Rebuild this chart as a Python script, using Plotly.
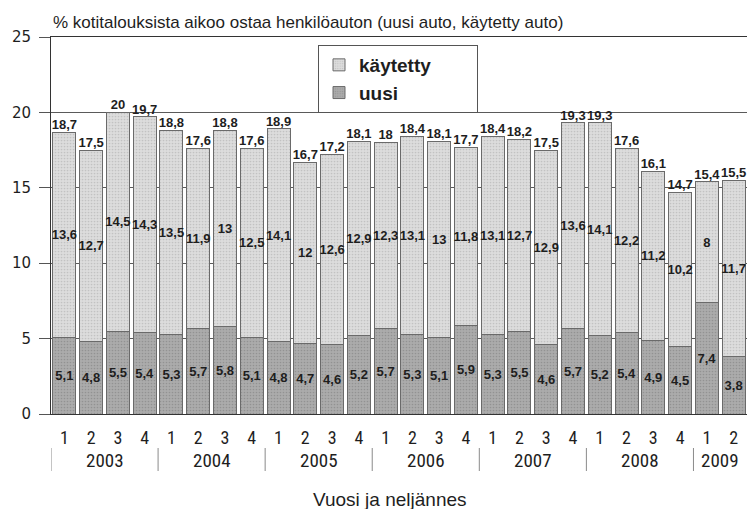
import plotly.graph_objects as go

# Quarterly survey: share of households planning to buy a car (%)
years = ["2003"] * 4 + ["2004"] * 4 + ["2005"] * 4 + ["2006"] * 4 + ["2007"] * 4 + ["2008"] * 4 + ["2009"] * 2
quarters = ["1", "2", "3", "4"] * 6 + ["1", "2"]

uusi = [5.1, 4.8, 5.5, 5.4, 5.3, 5.7, 5.8, 5.1, 4.8, 4.7, 4.6, 5.2, 5.7,
        5.3, 5.1, 5.9, 5.3, 5.5, 4.6, 5.7, 5.2, 5.4, 4.9, 4.5, 7.4, 3.8]
kaytetty = [13.6, 12.7, 14.5, 14.3, 13.5, 11.9, 13, 12.5, 14.1, 12, 12.6, 12.9, 12.3,
            13.1, 13, 11.8, 13.1, 12.7, 12.9, 13.6, 14.1, 12.2, 11.2, 10.2, 8, 11.7]

y_ticks = [0, 5, 10, 15, 20, 25]

categories = [f"{y}/{q}" for y, q in zip(years, quarters)]
totals = [round(a + b, 1) for a, b in zip(uusi, kaytetty)]


def fi(v):
    """Finnish number format: decimal comma, no trailing .0"""
    s = f"{v:g}"
    return s.replace(".", ",")


W, H = 747, 509
M_L, M_R, M_T, M_B = 51, 0, 37, 95
plot_h = H - M_T - M_B

TXT = "#1e1e1e"
label_font = dict(family="Liberation Sans, Arial, sans-serif", size=13, color=TXT, weight="bold")
narrow = "Liberation Sans Narrow, Arial Narrow, Roboto Condensed, Liberation Sans, sans-serif"
NB = "\u00a0"

fig = go.Figure()

fig.add_trace(go.Bar(
    name="uusi" + NB * 14, x=categories, y=uusi,
    text=[fi(v) for v in uusi], textposition="inside", insidetextanchor="middle",
    textangle=0, constraintext="none", textfont=label_font,
    marker=dict(color="#ababab", line=dict(color="#6a6a6a", width=1),
                pattern=dict(shape=".", fgcolor="#7a7a7a", size=3, solidity=0.25)),
))
fig.add_trace(go.Bar(
    name="käytetty" + NB * 6, x=categories, y=kaytetty,
    text=[fi(v) for v in kaytetty], textposition="inside", insidetextanchor="middle",
    textangle=0, constraintext="none", textfont=label_font,
    marker=dict(color="#dcdcdc", line=dict(color="#6a6a6a", width=1),
                pattern=dict(shape=".", fgcolor="#a8a8a8", size=3, solidity=0.25)),
))
# bar totals above each stack
fig.add_trace(go.Scatter(
    x=categories, y=totals, mode="text", text=[fi(v) for v in totals],
    textposition="top center", textfont=label_font, showlegend=False, hoverinfo="skip",
))

# year group labels and separators below the quarter labels
groups = []
for i, y in enumerate(years):
    if not groups or groups[-1][0] != y:
        groups.append([y, i, i])
    else:
        groups[-1][2] = i

def py(px):
    """pixel row -> paper y"""
    return (H - M_B - px) / plot_h

for name, start, end in groups:
    fig.add_annotation(x=(start + end) / 2, y=py(460), xref="x", yref="paper",
                       text=name, showarrow=False, yanchor="middle",
                       font=dict(family=narrow, size=19, color=TXT))
    fig.add_shape(type="line", xref="x", yref="paper",
                  x0=start - 0.5, x1=start - 0.5, y0=py(448), y1=py(471),
                  line=dict(color="#8a8a8a", width=1))

fig.add_annotation(x=0, y=py(22), xref="paper", yref="paper", xanchor="left", yanchor="middle",
                   text="% kotitalouksista aikoo ostaa henkilöauton (uusi auto, käytetty auto)",
                   showarrow=False, font=dict(family="Liberation Sans, Arial, sans-serif", size=17, color=TXT))
fig.add_annotation(x=(389.5 - M_L) / (W - M_L - M_R), y=py(500), xref="paper", yref="paper",
                   yanchor="middle", text="Vuosi ja neljännes", showarrow=False,
                   font=dict(family="Liberation Sans, Arial, sans-serif", size=19, color=TXT))

fig.update_layout(
    width=W, height=H,
    margin=dict(l=M_L, r=M_R, t=M_T, b=M_B),
    paper_bgcolor="white", plot_bgcolor="white",
    barmode="stack", bargap=0.14,
    separators=", ",
    showlegend=True,
    legend=dict(x=(318 - M_L) / (W - M_L - M_R), y=py(45), xanchor="left", yanchor="top",
                bgcolor="white", bordercolor="#555", borderwidth=1,
                font=dict(family="Liberation Sans, Arial, sans-serif", size=19, color=TXT, weight="bold"),
                tracegroupgap=0),
    xaxis=dict(type="category", range=[-0.5, len(categories) - 0.5],
               tickvals=categories, ticktext=quarters, ticks="",
               tickfont=dict(family=narrow, size=18, color=TXT), ticklabelstandoff=7,
               showline=True, mirror=True, linecolor="#333", linewidth=1,
               showgrid=False, zeroline=False),
    yaxis=dict(range=[0, 25], tickvals=y_ticks, ticks="outside", ticklen=11, tickcolor="#555",
               tickfont=dict(family="DejaVu Sans, sans-serif", size=15, color=TXT),
               ticklabelstandoff=5,
               showline=True, linecolor="#333", linewidth=1,
               showgrid=True, gridcolor="#5a5a5a", gridwidth=1, zeroline=False),
)

fig.write_html("out.html")
